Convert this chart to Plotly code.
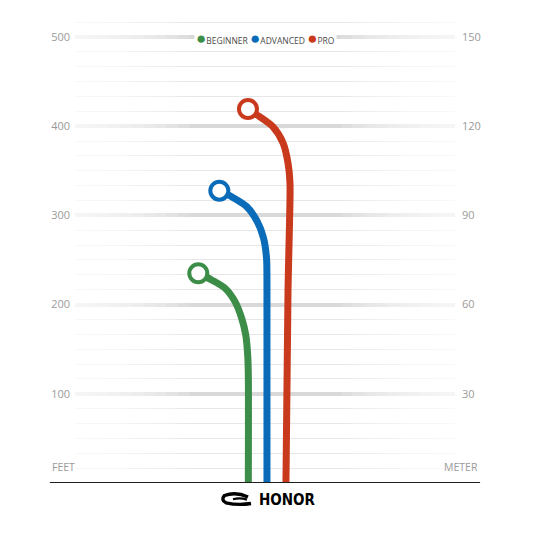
"""Disc flight heights by skill level — feet on the left, meters on the right."""
import plotly.graph_objects as go

GREEN = "#3c8d47"
BLUE = "#0a6cb8"
RED = "#c9391c"
LABEL = "#9a9a9a"

LEVELS = ["BEGINNER", "ADVANCED", "PRO"]
COLORS = [GREEN, BLUE, RED]

# flight paths: lateral offset (ft) and height (ft), ground first, apex last
BEGINNER_X = [-18.7, -18.7, -19.4, -21.6, -26.1, -33.6, -44.8, -59.8, -74.8]
BEGINNER_Y = [0, 121, 143.5, 166, 184.6, 203.3, 218.3, 227.6, 235.1]
ADVANCED_X = [2.2, 2.2, 1.7, -1.7, -9.0, -20.5, -37.0, -51.2]
ADVANCED_Y = [0, 222, 252.2, 274.7, 293.7, 309.8, 320.6, 327.7]
PRO_X = [23.5, 25.8, 27.5, 28.0, 25.8, 20.2, 9.0, -5.6, -19.1]
PRO_Y = [0, 216.4, 291.5, 336.3, 358.7, 381.2, 399.1, 410.3, 419.3]

FEET_TICKS = [100, 200, 300, 400, 500]
METER_TICKS = [30, 60, 90, 120, 150]
FT_TOP = 519
X_RANGE = [-213, 213]

PATHS = [(BEGINNER_X, BEGINNER_Y), (ADVANCED_X, ADVANCED_Y), (PRO_X, PRO_Y)]

# the page body has an 8px margin, so the figure is drawn 8px smaller/shifted
W = H = 525

fig = go.Figure()
for name, color, (xs, ys) in zip(LEVELS, COLORS, PATHS):
    fig.add_trace(go.Scatter(x=xs, y=ys, mode="lines", name=name, showlegend=False,
                             line=dict(color=color, width=7, shape="spline", smoothing=0.8),
                             hoverinfo="skip"))
    fig.add_trace(go.Scatter(x=xs[-1:], y=ys[-1:], mode="markers", showlegend=False,
                             marker=dict(size=18, color="white", line=dict(color=color, width=4)),
                             hoverinfo="skip"))

# keeps the meter axis alive
fig.add_trace(go.Scatter(x=[None], y=[None], yaxis="y2", showlegend=False))

# white fades over the grid at both ends (between grid and traces)
span = X_RANGE[1] - X_RANGE[0]
for i in range(10):
    w = span * 0.03 * (i + 1)
    for x0, x1 in [(X_RANGE[0] - 20, X_RANGE[0] + w), (X_RANGE[1] - w, X_RANGE[1] + 20)]:
        fig.add_shape(type="rect", xref="x", yref="y", x0=x0, x1=x1, y0=3, y1=FT_TOP + 10,
                      fillcolor="white", opacity=0.15, line_width=0, layer="between")

# ground line
fig.add_shape(type="line", xref="paper", yref="y", x0=-0.066, x1=1.066, y0=0, y1=0,
              line=dict(color="#1e1e1e", width=2), layer="above")

fig.add_annotation(text="FEET", xref="paper", yref="y", x=-0.066, y=18, xanchor="left",
                   showarrow=False, font=dict(size=10.5, color=LABEL, family="Open Sans"))
fig.add_annotation(text="METER", xref="paper", yref="y", x=1.066, y=18, xanchor="right",
                   showarrow=False, font=dict(size=10.5, color=LABEL, family="Open Sans"))

legend_txt = " ".join(
    f'<span style="color:{c};font-size:17px">●</span>{n}' for n, c in zip(LEVELS, COLORS))
fig.add_annotation(text=legend_txt, xref="paper", yref="paper", x=0.5, y=0.963,
                   xanchor="center", yanchor="middle", showarrow=False, bgcolor="white",
                   font=dict(size=8.5, color="#4a4a4a", family="Open Sans"))

# brand mark under the ground line
fig.add_annotation(text="<b>HONOR</b>", xref="paper", yref="paper", x=0.56, y=-0.037,
                   xanchor="center", yanchor="middle", showarrow=False,
                   font=dict(size=15, color="black", family="DejaVu Sans Condensed"))


def px(x, y):
    return (x - 75) / 380, (483 - y) / 463


def path(pts):
    p = [px(*q) for q in pts]
    s = f"M {p[0][0]},{p[0][1]}"
    for i in range(1, len(p) - 1, 2):
        s += f" Q {p[i][0]},{p[i][1]} {p[i + 1][0]},{p[i + 1][1]}"
    return s


swoosh_outer = [(248, 497), (236, 491.5), (224.5, 495.5), (220.5, 500), (226, 502.8),
                (238, 505.5), (251, 503.5)]
swoosh_bar = [(233, 499.2), (240, 497.5), (247, 499.6)]
for pts, w in [(swoosh_outer, 3.4), (swoosh_bar, 2.2)]:
    fig.add_shape(type="path", xref="paper", yref="paper", path=path(pts),
                  line=dict(color="black", width=w))

fig.update_layout(
    width=W, height=H,
    margin=dict(l=67, r=W - 67 - 380, t=12, b=H - 12 - 463),
    paper_bgcolor="white", plot_bgcolor="white",
    showlegend=False,
    xaxis=dict(range=X_RANGE, visible=False, fixedrange=True),
    yaxis=dict(range=[0, FT_TOP], tickvals=FEET_TICKS, showgrid=True, gridcolor="#d9d9d9",
               gridwidth=4, zeroline=False, ticks="", ticklabelstandoff=4,
               tickfont=dict(size=11, color=LABEL, family="Open Sans"),
               minor=dict(dtick=100 / 6, tick0=0, showgrid=True, gridcolor="#e6e6e6",
                          gridwidth=1.2)),
    yaxis2=dict(range=[0, FT_TOP * 0.3], tickvals=METER_TICKS, overlaying="y", side="right",
                showgrid=False, zeroline=False, ticks="", ticklabelstandoff=6,
                tickfont=dict(size=11, color=LABEL, family="Open Sans")),
)

fig.write_html("out.html")
